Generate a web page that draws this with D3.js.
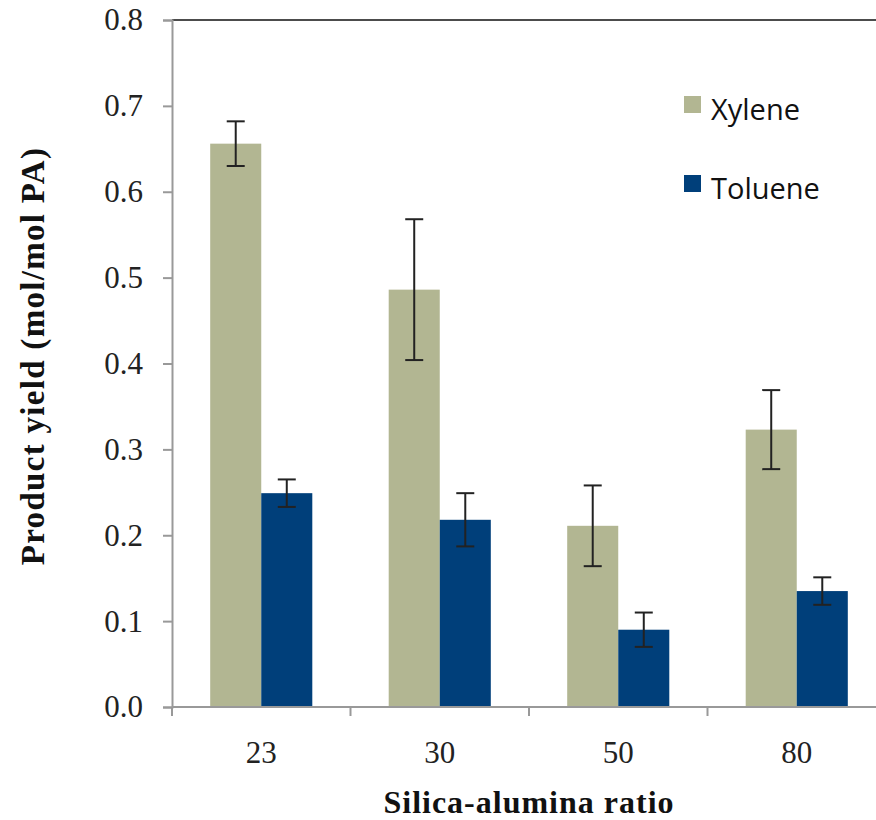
<!DOCTYPE html>
<html>
<head>
<meta charset="utf-8">
<script src="https://cdn.jsdelivr.net/npm/d3@7"></script>
<style>
  body { margin: 0; background: #fff; }
  svg { display: block; }
</style>
</head>
<body>
<svg id="chart" width="876" height="820"></svg>
<script>
// data
var categories = ["23", "30", "50", "80"];
var series = ["Xylene", "Toluene"];
var xylene = [0.656, 0.486, 0.211, 0.323];
var xylene_err = [0.026, 0.082, 0.047, 0.046];
var toluene = [0.249, 0.218, 0.090, 0.135];
var toluene_err = [0.016, 0.031, 0.020, 0.016];
var y_ticks = [0, 0.1, 0.2, 0.3, 0.4, 0.5, 0.6, 0.7, 0.8];

var colors = { Xylene: "#b2b692", Toluene: "#003f7a" };

var plotLeft = 172, plotTop = 20, plotBottom = 707, step = 178.5;

var svg = d3.select("#chart");

var y = d3.scaleLinear().domain([0, 0.8]).range([plotBottom, plotTop]);
var x = d3.scaleBand()
    .domain(categories)
    .range([plotLeft, plotLeft + step * categories.length])
    .paddingInner(0.428)
    .paddingOuter(0.214);
var xs = d3.scaleBand().domain(series).range([0, x.bandwidth()]);

// rows for the bars
var rows = [];
categories.forEach(function (c, i) {
    rows.push({ cat: c, s: "Xylene", v: xylene[i], e: xylene_err[i] });
    rows.push({ cat: c, s: "Toluene", v: toluene[i], e: toluene_err[i] });
});

// top border
svg.append("line")
    .attr("x1", plotLeft).attr("x2", 876)
    .attr("y1", plotTop).attr("y2", plotTop)
    .attr("stroke", "#111").attr("stroke-width", 1.5);

// bars
svg.append("g").selectAll("rect")
    .data(rows)
    .join("rect")
    .attr("x", function (d) { return x(d.cat) + xs(d.s); })
    .attr("y", function (d) { return y(d.v); })
    .attr("width", xs.bandwidth())
    .attr("height", function (d) { return y(0) - y(d.v); })
    .attr("fill", function (d) { return colors[d.s]; });

// error bars
var eb = svg.append("g").attr("stroke", "#222").attr("stroke-width", 2);
rows.forEach(function (d) {
    var cx = x(d.cat) + xs(d.s) + xs.bandwidth() / 2;
    eb.append("line").attr("x1", cx).attr("x2", cx)
        .attr("y1", y(d.v + d.e)).attr("y2", y(d.v - d.e));
    [d.v + d.e, d.v - d.e].forEach(function (v) {
        eb.append("line").attr("x1", cx - 9).attr("x2", cx + 9)
            .attr("y1", y(v)).attr("y2", y(v));
    });
});

// y axis
var yAxis = svg.append("g")
    .attr("transform", "translate(" + plotLeft + ",0)")
    .call(d3.axisLeft(y).tickValues(y_ticks).tickFormat(d3.format(".1f")).tickSize(9).tickPadding(20));
yAxis.select(".domain").attr("stroke", "#999").attr("stroke-width", 2);
yAxis.selectAll(".tick line").attr("stroke", "#999").attr("stroke-width", 2);
yAxis.selectAll(".tick text")
    .attr("font-family", "Liberation Serif, serif")
    .attr("font-size", 31)
    .attr("fill", "#222");

// x axis: labels centred on the bands, ticks at band boundaries
var xAxis = svg.append("g")
    .attr("transform", "translate(0," + plotBottom + ")")
    .call(d3.axisBottom(x).tickSize(0).tickPadding(34));
xAxis.select(".domain").remove();
xAxis.selectAll(".tick text")
    .attr("font-family", "Liberation Serif, serif")
    .attr("font-size", 31)
    .attr("fill", "#222");
svg.append("line")
    .attr("x1", plotLeft).attr("x2", 876)
    .attr("y1", plotBottom).attr("y2", plotBottom)
    .attr("stroke", "#999").attr("stroke-width", 2);
svg.append("g").selectAll("line")
    .data(d3.range(categories.length + 1))
    .join("line")
    .attr("x1", function (i) { return plotLeft + i * x.step(); })
    .attr("x2", function (i) { return plotLeft + i * x.step(); })
    .attr("y1", plotBottom).attr("y2", plotBottom + 9)
    .attr("stroke", "#999").attr("stroke-width", 2);

// axis titles
svg.append("text")
    .attr("x", 529).attr("y", 813)
    .attr("text-anchor", "middle")
    .attr("font-family", "Liberation Serif, serif")
    .attr("font-weight", "bold")
    .attr("font-size", 32)
    .attr("letter-spacing", 1)
    .attr("fill", "#111")
    .text("Silica-alumina ratio");

svg.append("text")
    .attr("transform", "translate(44,356) rotate(-90)")
    .attr("text-anchor", "middle")
    .attr("font-family", "Liberation Serif, serif")
    .attr("font-weight", "bold")
    .attr("font-size", 33)
    .attr("letter-spacing", 1.3)
    .attr("fill", "#111")
    .text("Product yield (mol/mol PA)");

// legend
var legend = svg.append("g").selectAll("g")
    .data(series)
    .join("g")
    .attr("transform", function (d, i) { return "translate(684," + (96 + i * 79) + ")"; });
legend.append("rect")
    .attr("width", 17).attr("height", 17)
    .attr("fill", function (d) { return colors[d]; });
legend.append("text")
    .attr("x", 27).attr("y", 24)
    .attr("font-family", "Open Sans, sans-serif")
    .attr("font-size", 29)
    .attr("fill", "#111")
    .text(function (d) { return d; });
</script>
</body>
</html>
